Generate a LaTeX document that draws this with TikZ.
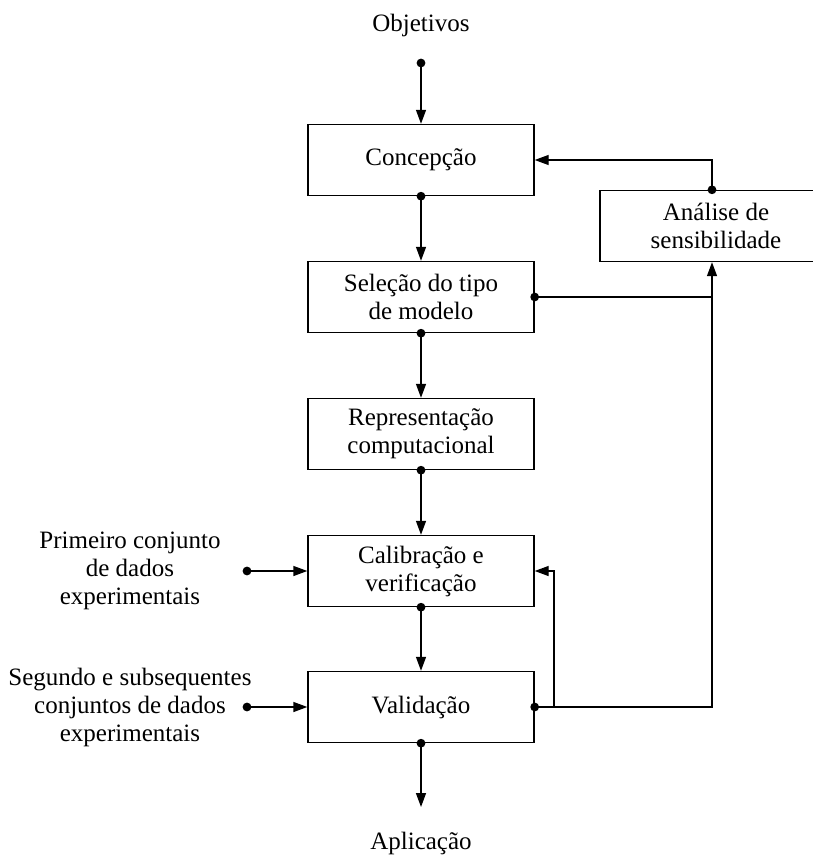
\documentclass[tikz,border=0pt]{standalone}
\usepackage{fontspec}
\setmainfont{Liberation Serif}
\usetikzlibrary{arrows.meta}

\begin{document}
\begin{tikzpicture}[x=0.5pt,y=-0.5pt,line width=0.7pt,
	>={Triangle[length=7pt,width=5pt]},
	etapa/.style={draw,minimum width=113pt,minimum height=35.5pt,align=center},
	texto/.style={align=center}]
	
	\useasboundingbox (0,0) rectangle (813,856);
	\clip (0,0) rectangle (813,856);
	\fontsize{12.5}{14}\selectfont
	
	% the steps
	\node[etapa] (conc) at (421,160) {Concepção};
	\node[etapa] (sel) at (421,297) {Seleção do tipo\\de modelo};
	\node[etapa] (rep) at (421,434) {Representação\\computacional};
	\node[etapa] (cal) at (421,571) {Calibração e\\verificação};
	\node[etapa] (val) at (421,707) {Validação};
	\node[etapa,minimum width=116pt] (ana) at (716,226) {Análise de\\sensibilidade};
	
	% the texts
	\node[texto] (obj) at (421,25) {Objetivos};
	\node[texto] (apl) at (421,843) {Aplicação};
	\node[texto] (prim) at (130,571) {Primeiro conjunto\\de dados\\experimentais};
	\node[texto] (seg) at (130,707) {Segundo e subsequentes\\conjuntos de dados\\experimentais};
	
	% the free ends
	\coordinate (objd) at (421,63);
	\coordinate (apld) at (421,807);
	\coordinate (primd) at (247,571);
	\coordinate (segd) at (247,707);
	\coordinate (vald) at (712,707);
	\coordinate (ramo) at (554,707);
	\coordinate (ramo2) at (554,571);
	\coordinate (seld) at (712,297);
	\coordinate (anad) at (712,160);
	
	% the main column
	\draw[->] (objd) -- (conc.north);
	\draw[->] (conc.south) -- (sel.north);
	\draw[->] (sel.south) -- (rep.north);
	\draw[->] (rep.south) -- (cal.north);
	\draw[->] (cal.south) -- (val.north);
	\draw[->] (val.south) -- (apld);
	
	% the data
	\draw[->] (primd) -- (cal.west);
	\draw[->] (segd) -- (val.west);
	
	% the feedback
	\draw[->] (val.east) -- (vald) -- (vald |- ana.south);
	\draw[->] (ramo) -- (ramo2) -- (cal.east);
	\draw (sel.east) -- (seld);
	\draw[->] (anad |- ana.north) -- (anad) -- (conc.east);
	
	% the dots
	\foreach \p in {objd,conc.south,sel.south,rep.south,cal.south,val.south,primd,segd,val.east,sel.east}
		\fill (\p) circle (2.2pt);
	\fill (anad |- ana.north) circle (2.2pt);
\end{tikzpicture}
\end{document}
